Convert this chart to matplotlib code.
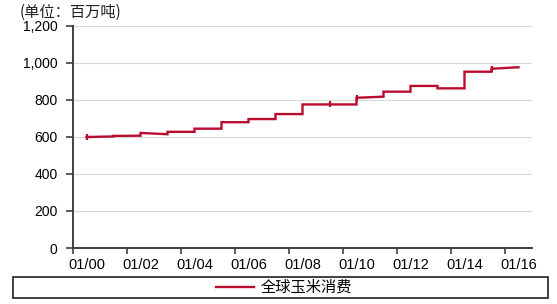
import matplotlib
matplotlib.use("Agg")
import matplotlib.pyplot as plt
from matplotlib.patches import Rectangle

# Data: marketing-year level segments (start value, end value) per year
years = [2000, 2001, 2002, 2003, 2004, 2005, 2006, 2007,
         2008, 2009, 2010, 2011, 2012, 2013, 2014, 2015]
start_vals = [600, 606, 622, 628, 645, 680, 697, 724,
              776, 776, 812, 845, 876, 863, 953, 969]
end_vals = [603, 607, 615, 628, 645, 680, 697, 724,
            776, 776, 818, 845, 876, 863, 953, 977]
marked_years = [2000, 2009, 2010, 2015]

tick_labels = ["01/00", "01/02", "01/04", "01/06", "01/08",
               "01/10", "01/12", "01/14", "01/16"]
label_years = [2000, 2002, 2004, 2006, 2008, 2010, 2012, 2014, 2016]
y_ticks = [0, 200, 400, 600, 800, 1000, 1200]
series_name = "全球玉米消费"
unit_text = "(单位：百万吨)"

plt.rcParams['font.family'] = ['Liberation Sans', 'Noto Sans CJK SC', 'DejaVu Sans']

W, H = 557, 304
fig = plt.figure(figsize=(W / 100, H / 100), dpi=100)
ax = fig.add_axes([73 / W, 1 - 248 / H, (532 - 73) / W, (248 - 26) / H])

xs, ys, mark_idx = [], [], []
for yr, s, e in zip(years, start_vals, end_vals):
    if yr in marked_years:
        mark_idx.append(len(xs))
    xs += [yr, yr + 1]
    ys += [s, e]

red = '#BA0C2F'
line, = ax.plot(xs, ys, color=red, lw=1.7, solid_joinstyle='miter',
                marker='|', markevery=mark_idx, markersize=5, markeredgewidth=1.6,
                label=series_name)

ax.set_xlim(1999.5, 2016.5)
ax.set_ylim(0, 1200)
ax.set_yticks(y_ticks)
ax.set_yticklabels([f"{v:,}" for v in y_ticks])
ax.yaxis.grid(True, color='#D9D9D9', lw=0.8)
ax.set_axisbelow(True)

ax.set_xticks([y - 0.5 for y in label_years])
ax.set_xticklabels([])
ax.set_xticks(label_years, minor=True)
ax.set_xticklabels(tick_labels, minor=True)
ax.tick_params(axis='x', which='minor', length=0, pad=7)
ax.tick_params(axis='x', which='major', length=4, width=1.2, color='#404040', direction='out')
ax.tick_params(axis='y', length=5, width=1.2, color='#404040', pad=6)
ax.tick_params(axis='y', labelsize=10, labelcolor='#000000')
for lab in ax.get_xticklabels(minor=True):
    lab.set_fontsize(10.5)

for sp in ['top', 'right']:
    ax.spines[sp].set_visible(False)
for sp in ['left', 'bottom']:
    ax.spines[sp].set_color('#404040')
    ax.spines[sp].set_linewidth(1.4)

fig.text(20 / W, 1 - 12 / H, unit_text, fontsize=11, va='center', ha='left',
         family=['Noto Sans CJK SC', 'DejaVu Sans'], color='#202020')

fig.patches.append(Rectangle((13 / W, 1 - 298 / H), (548 - 13) / W, 21 / H,
                             transform=fig.transFigure, fill=False,
                             edgecolor='#202020', lw=1.2))
leg = fig.legend(handles=[line], labels=[series_name], loc='center',
                 bbox_to_anchor=(284 / W, 1 - 287.5 / H), frameon=False,
                 handlelength=2.5, handletextpad=0.4,
                 prop={'family': ['Noto Sans CJK SC'], 'size': 11})
for h in leg.legend_handles:
    h.set_marker('')

fig.savefig('out.png', dpi=100)
